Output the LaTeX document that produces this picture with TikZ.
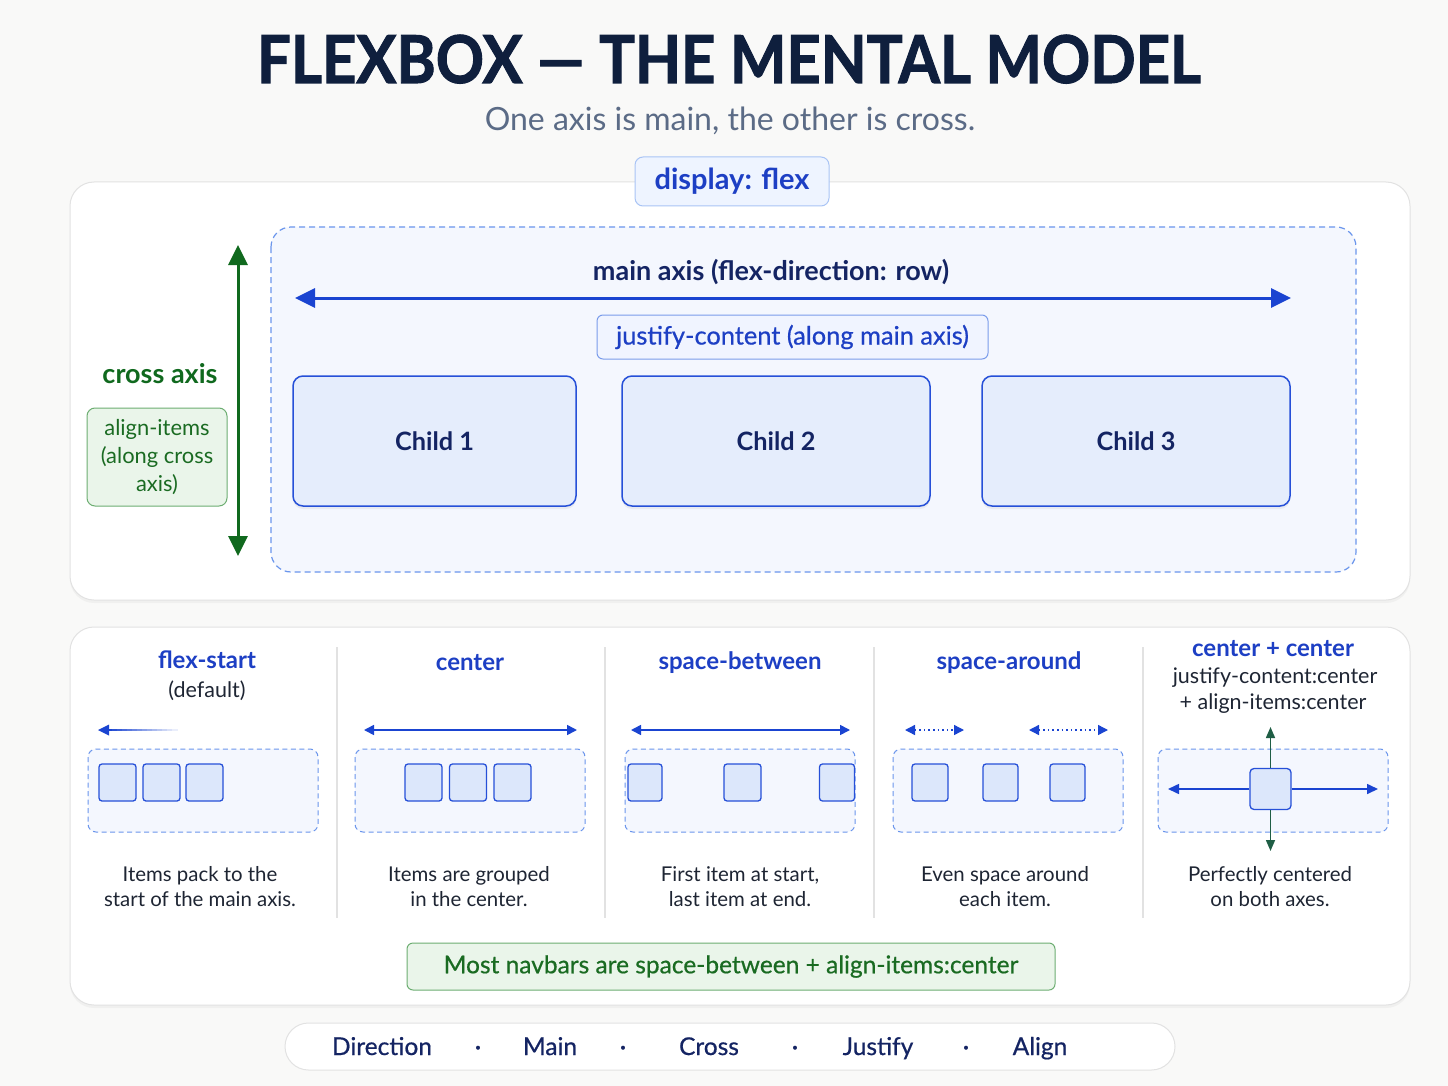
\documentclass[tikz,border=0pt]{standalone}
\usepackage{fontspec}
\setmainfont{Lato}
\newfontfamily\heavyfont{Lato}[BoldFeatures={FakeBold=1.6}]
\newfontfamily\mediumfont{Lato}[FakeBold=0.6]
\usetikzlibrary{shadows,arrows.meta}
\definecolor{bg}{HTML}{F9F9F8}
\definecolor{navy}{HTML}{0F1F3D}
\definecolor{navytwo}{HTML}{142463}
\definecolor{subgray}{HTML}{5B6B86}
\definecolor{fbblue}{HTML}{1A44D1}
\definecolor{textblue}{HTML}{1D3FC4}
\definecolor{dashblue}{HTML}{6A95EC}
\definecolor{contfill}{HTML}{F4F7FE}
\definecolor{childfill}{HTML}{E5EDFC}
\definecolor{childdraw}{HTML}{2650D8}
\definecolor{minifill}{HTML}{DCE7FB}
\definecolor{gfill}{HTML}{EAF5EA}
\definecolor{gdraw}{HTML}{6DAE72}
\definecolor{gtext}{HTML}{1A6B22}
\definecolor{garrow}{HTML}{10691E}
\definecolor{tealg}{HTML}{1F5E45}
\definecolor{bodytext}{HTML}{1E2533}
\definecolor{panelborder}{HTML}{E2E2E2}
\definecolor{pillfill}{HTML}{EEF4FF}
\definecolor{pilldraw}{HTML}{A9C4F5}
\definecolor{jfill}{HTML}{F0F4FF}
\definecolor{jdraw}{HTML}{7A9CEB}
\tikzset{
  panel/.style={draw=panelborder, fill=white, line width=1pt, rounded corners=24pt,
    drop shadow={opacity=0.07, shadow xshift=0pt, shadow yshift=-3pt}},
  dashbox/.style={draw=dashblue, fill=contfill, line width=1.2pt, dash pattern=on 6pt off 4pt},
  childbox/.style={draw=childdraw, fill=childfill, line width=1.5pt, rounded corners=10pt,
    minimum height=130pt, text=navytwo, font=\fontsize{25.3}{30}\selectfont\bfseries,
    drop shadow={opacity=0.10, shadow xshift=0pt, shadow yshift=-3pt}},
  minibox/.style={draw=childdraw, fill=minifill, line width=1.3pt, rounded corners=3pt,
    minimum size=37pt, inner sep=0pt},
  coltitle/.style={anchor=base, text=textblue, font=\fontsize{24}{28}\selectfont\bfseries},
  colsub/.style={anchor=base, text=bodytext, font=\fontsize{21.5}{25}\selectfont},
  desc/.style={anchor=base, text=bodytext, font=\fontsize{20.4}{25}\selectfont, align=center},
  bigarrow/.style={line width=3pt, {Triangle[length=20pt,width=19pt]}-{Triangle[length=20pt,width=19pt]}},
  smallarrow/.style={draw=fbblue, line width=1.6pt, {Triangle[length=10pt,width=10pt]}-{Triangle[length=10pt,width=10pt]}},
  dotarrow/.style={draw=fbblue, line width=1.4pt, dash pattern=on 1.6pt off 3pt, {Triangle[length=10pt,width=10pt]}-{Triangle[length=10pt,width=10pt]}},
  footitem/.style={anchor=base, text=navytwo, font=\mediumfont\fontsize{24.5}{28}\selectfont},
}
\begin{document}
\begin{tikzpicture}[x=1pt,y=-1pt]
\useasboundingbox[fill=bg] (0,0) rectangle (1448,1086);

% title
\node[anchor=base, text=navy, font=\heavyfont\fontsize{66}{70}\selectfont\bfseries] (title) at (729,83) {\scalebox{0.905}[1]{FLEXBOX — THE MENTAL MODEL}};
\node[anchor=base, text=subgray, font=\fontsize{32}{36}\selectfont] (subtitle) at (730,131) {One axis is main, the other is cross.};

% top panel
\draw[panel] (70,182) rectangle (1410,600);
\node[draw=pilldraw, fill=pillfill, line width=1pt, rounded corners=8pt, minimum width=194pt, minimum height=49pt,
  text=textblue, font=\fontsize{29}{32}\selectfont\bfseries] (display) at (732,181.5) {\raisebox{-1.5pt}{display: flex}};

\draw[dashbox, rounded corners=20pt] (271,227) rectangle (1356,572);

\node[anchor=base, text=navytwo, font=\fontsize{27}{30}\selectfont\bfseries] (mainlabel) at (771,280) {main axis (flex-direction: row)};
\coordinate (mL) at (295,298);
\coordinate (mR) at (1291,298);
\draw[bigarrow, draw=fbblue, fill=fbblue] (mL) -- (mR);

\node[draw=jdraw, fill=jfill, line width=1pt, rounded corners=6pt, minimum width=391pt, minimum height=44pt,
  text=textblue, font=\mediumfont\fontsize{25.4}{28}\selectfont] (justify) at (792.5,337) {justify-content (along main axis)};

\node[childbox, minimum width=283pt] (c1) at (434.5,441) {Child 1};
\node[childbox, minimum width=308pt] (c2) at (776,441) {Child 2};
\node[childbox, minimum width=308pt] (c3) at (1136,441) {Child 3};

% cross axis
\coordinate (cT) at (238,245);
\coordinate (cB) at (238,556);
\draw[bigarrow, draw=garrow, fill=garrow] (cB) -- (cT);
\node[anchor=base, text=garrow, font=\fontsize{27}{30}\selectfont\bfseries] (crosslabel) at (160,383) {cross axis};
\node[draw=gdraw, fill=gfill, line width=1pt, rounded corners=8pt, minimum width=140pt, minimum height=98pt,
  text=gtext, align=center, font=\fontsize{21.9}{28}\selectfont] (alignbox) at (157,457) {align-items\\(along cross\\axis)};

% bottom panel
\draw[panel] (70,627) rectangle (1410,1005);
\foreach \sx/\nm in {337/s1,605/s2,874/s3,1143/s4}{
  \coordinate (\nm t) at (\sx,647);
  \coordinate (\nm b) at (\sx,918);
  \draw[panelborder, line width=1.3pt] (\nm t) -- (\nm b);
}

% column titles
\node[coltitle] (t1) at (207,668) {flex-start};
\node[colsub] (t1b) at (207,697) {(default)};
\node[coltitle] (t2) at (470,670) {center};
\node[coltitle] (t3) at (740,669) {space-between};
\node[coltitle] (t4) at (1009,669) {space-around};
\node[coltitle] (t5) at (1273,656) {center + center};
\node[colsub] (t5b) at (1275,683) {justify-content:center};
\node[colsub] (t5c) at (1273,709) {+ align-items:center};

% dashed containers
\foreach \cx/\nm in {88/d1,355/d2,625/d3,893/d4,1158/d5}{
  \draw[dashbox, line width=1pt, dash pattern=on 5pt off 3.5pt, rounded corners=8pt] (\cx,749) rectangle ++(230,83);
}

% column 1 fading arrow
\coordinate (f1tip) at (98,730);
\foreach \i in {0,...,13}{
  \pgfmathsetmacro{\shade}{100-\i*7}
  \draw[draw=fbblue!\shade!white, line width=1.6pt] (107+\i*5,730) -- (113+\i*5,730);
}
\fill[fbblue] (f1tip) -- ++(11,-5.5) -- ++(0,11) -- cycle;

% column 1 squares
\node[minibox] (a1) at (117.5,782.5) {};
\node[minibox] (a2) at (161.5,782.5) {};
\node[minibox] (a3) at (204.5,782.5) {};

% column 2
\coordinate (b1L) at (364,730);
\coordinate (b1R) at (577,730);
\draw[smallarrow] (b1L) -- (b1R);
\node[minibox] (b1) at (423.5,782.5) {};
\node[minibox] (b2) at (468,782.5) {};
\node[minibox] (b3) at (512.5,782.5) {};

% column 3
\coordinate (c3L) at (631,730);
\coordinate (c3R) at (850,730);
\draw[smallarrow] (c3L) -- (c3R);
\node[minibox, minimum width=34pt] (e1) at (645,782.5) {};
\node[minibox] (e2) at (742.5,782.5) {};
\node[minibox, minimum width=35pt] (e3) at (837,782.5) {};

% column 4
\coordinate (d4aL) at (905,730);
\coordinate (d4aR) at (964,730);
\coordinate (d4bL) at (1029,730);
\coordinate (d4bR) at (1108,730);
\draw[dotarrow] (d4aL) -- (d4aR);
\draw[dotarrow] (d4bL) -- (d4bR);
\node[minibox, minimum width=36pt] (g1) at (930,782.5) {};
\node[minibox, minimum width=35pt] (g2) at (1000.5,782.5) {};
\node[minibox, minimum width=35pt] (g3) at (1067.5,782.5) {};

% column 5
\node[minibox, minimum size=41pt, rounded corners=4pt] (sq) at (1270.5,789) {};
\coordinate (hL) at (1168,789);
\coordinate (hR) at (1378,789);
\coordinate (vT) at (1270.5,727);
\coordinate (vB) at (1270.5,851);
\draw[draw=fbblue, line width=1.6pt, -{Triangle[length=11pt,width=10pt]}] (sq.west) -- (hL);
\draw[draw=fbblue, line width=1.6pt, -{Triangle[length=11pt,width=10pt]}] (sq.east) -- (hR);
\draw[draw=tealg, line width=1.5pt, -{Triangle[length=11pt,width=9pt]}] (sq.north) -- (vT);
\draw[draw=tealg, line width=1.5pt, -{Triangle[length=11pt,width=9pt]}] (sq.south) -- (vB);

% descriptions (base anchor = last line)
\node[desc] (x1) at (200,906) {Items pack to the\\start of the main axis.};
\node[desc] (x2) at (469,906) {Items are grouped\\in the center.};
\node[desc] (x3) at (740,906) {First item at start,\\last item at end.};
\node[desc] (x4) at (1005,906) {Even space around\\each item.};
\node[desc] (x5) at (1270,906) {Perfectly centered\\on both axes.};

% note
\node[draw=gdraw, fill=gfill, line width=1pt, rounded corners=6pt, minimum width=648pt, minimum height=47pt,
  text=gtext, font=\mediumfont\fontsize{24.5}{28}\selectfont] (note) at (731,966.5) {\raisebox{-1pt}{Most navbars are space-between + align-items:center}};

% footer
\draw[draw=panelborder, fill=white, line width=1pt, rounded corners=23.5pt] (285,1023) rectangle (1175,1070);
\node[footitem] (f1) at (382,1055) {Direction};
\node[footitem] (p1) at (478,1055) {·};
\node[footitem] (f2) at (550,1055) {Main};
\node[footitem] (p2) at (623,1055) {·};
\node[footitem] (f3) at (709,1055) {Cross};
\node[footitem] (p3) at (795,1055) {·};
\node[footitem] (f4) at (878,1055) {Justify};
\node[footitem] (p4) at (966,1055) {·};
\node[footitem] (f5) at (1040,1055) {Align};
\end{tikzpicture}
\end{document}
